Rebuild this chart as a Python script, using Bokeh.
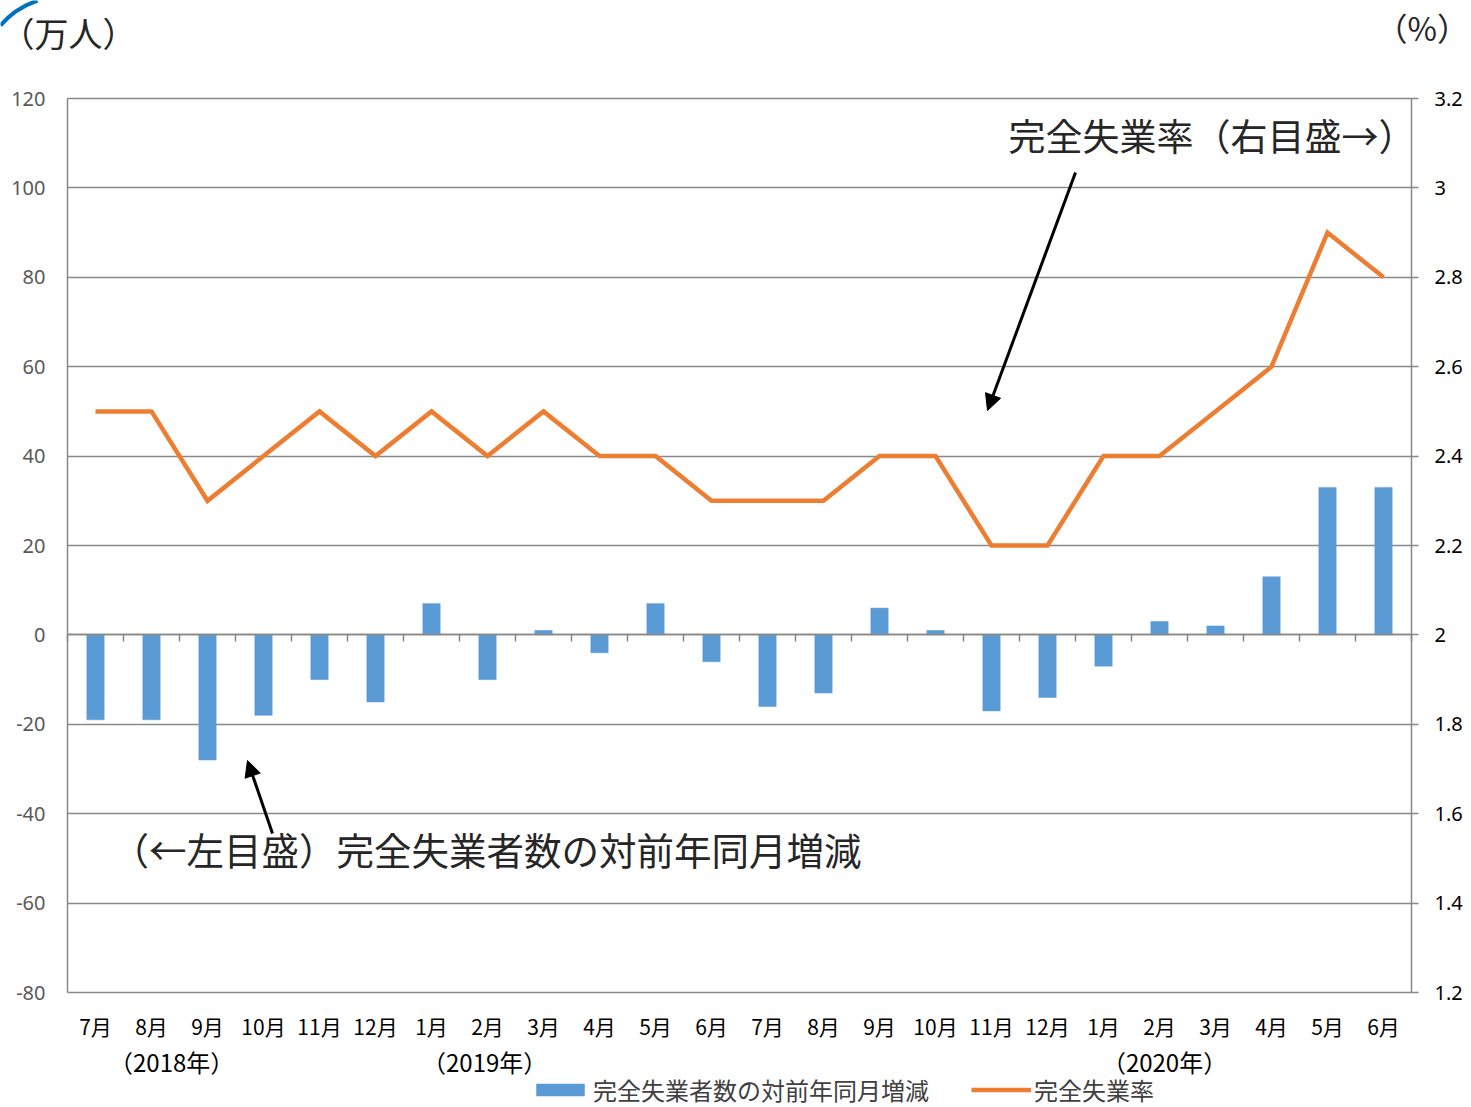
from bokeh.plotting import figure
from bokeh.models import (Range1d, LinearAxis, FixedTicker, NumeralTickFormatter,
                          CustomJSTickFormatter, Label, Arrow, NormalHead,
                          Legend, LegendItem, ColumnDataSource)
from bokeh.embed import file_html
from bokeh.resources import INLINE

# ---------------- data ----------------
months = ["7月", "8月", "9月", "10月", "11月", "12月",
          "1月", "2月", "3月", "4月", "5月", "6月",
          "7月", "8月", "9月", "10月", "11月", "12月",
          "1月", "2月", "3月", "4月", "5月", "6月"]
change = [-19, -19, -28, -18, -10, -15,
          7, -10, 1, -4, 7, -6,
          -16, -13, 6, 1, -17, -14,
          -7, 3, 2, 13, 33, 33]
rate = [2.5, 2.5, 2.3, 2.4, 2.5, 2.4,
        2.5, 2.4, 2.5, 2.4, 2.4, 2.3,
        2.3, 2.3, 2.4, 2.4, 2.2, 2.2,
        2.4, 2.4, 2.5, 2.6, 2.9, 2.8]
left_ticks = [-80, -60, -40, -20, 0, 20, 40, 60, 80, 100, 120]
right_ticks = [1.2, 1.4, 1.6, 1.8, 2.0, 2.2, 2.4, 2.6, 2.8, 3.0, 3.2]
year_labels = ["（2018年）", "（2019年）", "（2020年）"]
year_pos = [1.86, 7.45, 19.59]
series_names = ["完全失業者数の対前年同月増減", "完全失業率"]
left_unit = "（万人）"
right_unit = "（%）"

BLUE = "#5B9BD5"
ORANGE = "#ED7D31"
GRID = "#898989"
JP = "Noto Sans CJK JP"
NUM = "Noto Sans"

# ---------------- layout geometry (pixels) ----------------
W, H = 1471, 1107
FL, FR, FT, FB = 67, 1411, 98, 992          # plot box edges
n = len(months)
ux = (FR - FL) / n                               # px per category
uy = (FB - FT) / (left_ticks[-1] - left_ticks[0])  # px per left unit

def X(px):
    return (px - FL) / ux

def Y(py):
    return left_ticks[-1] - (py - FT) / uy

xs = [i + 0.5 for i in range(n)]
src = ColumnDataSource(dict(x=xs, change=change, rate=rate, month=months))

y0, y1 = Y(H), Y(0)
# right scale: 1.2..3.2 aligned with -80..120
k = (right_ticks[-1] - right_ticks[0]) / (left_ticks[-1] - left_ticks[0])
r0 = right_ticks[0] + (y0 - left_ticks[0]) * k
r1 = right_ticks[0] + (y1 - left_ticks[0]) * k

p = figure(width=W, height=H, output_backend="svg", toolbar_location=None, tools="",
           x_range=Range1d(X(0), X(W)), y_range=Range1d(y0, y1),
           min_border=0)
p.extra_y_ranges = {"pct": Range1d(r0, r1)}
p.outline_line_color = None

# grid
p.xgrid.visible = False
p.ygrid.ticker = FixedTicker(ticks=left_ticks)
p.ygrid.grid_line_color = GRID
p.ygrid.grid_line_width = 1.5
try:
    p.ygrid.cross_bounds = (0, n)
    custom_grid = False
except AttributeError:
    custom_grid = True
if custom_grid:
    p.ygrid.visible = False
    p.segment(x0=[0] * len(left_ticks), x1=[n] * len(left_ticks),
              y0=left_ticks, y1=left_ticks, line_color=GRID, line_width=1.5)

# left axis
ya = p.yaxis[0]
ya.fixed_location = 0
ya.bounds = (left_ticks[0], left_ticks[-1])
ya.ticker = FixedTicker(ticks=left_ticks)
ya.formatter = NumeralTickFormatter(format="0")
ya.axis_line_color = GRID
ya.axis_line_width = 1.5
ya.major_tick_out = 0
ya.major_tick_in = 0
ya.minor_tick_out = 0
ya.minor_tick_in = 0
ya.major_label_standoff = 22
ya.major_label_text_color = "#595959"
ya.major_label_text_font = NUM
ya.major_label_text_font_size = "20px"

# right axis
ra = LinearAxis(y_range_name="pct", ticker=FixedTicker(ticks=right_ticks),
                formatter=NumeralTickFormatter(format="0.[0]"),
                fixed_location=n, bounds=(right_ticks[0], right_ticks[-1]))
ra.axis_line_color = GRID
ra.axis_line_width = 1.5
ra.major_tick_line_color = GRID
ra.major_tick_line_width = 1.5
ra.major_tick_out = 7
ra.major_tick_in = 0
ra.minor_tick_out = 0
ra.minor_tick_in = 0
ra.major_label_standoff = 16
ra.major_label_text_color = "#000000"
ra.major_label_text_font = NUM
ra.major_label_text_font_size = "20px"
p.add_layout(ra, "right")

# month labels (bottom axis at the lower edge of the plot box)
xa = p.xaxis[0]
xa.fixed_location = left_ticks[0]
xa.bounds = (0, n)
xa.ticker = FixedTicker(ticks=xs)
xa.formatter = CustomJSTickFormatter(args=dict(labels=months),
                                     code="return labels[Math.floor(tick)];")
xa.axis_line_color = None
xa.major_tick_out = 0
xa.major_tick_in = 0
xa.minor_tick_out = 0
xa.minor_tick_in = 0
xa.major_label_standoff = 18
xa.major_label_text_color = "#000000"
xa.major_label_text_font = JP
xa.major_label_text_font_size = "21px"

# year labels
yax = LinearAxis(ticker=FixedTicker(ticks=year_pos), fixed_location=left_ticks[0],
                 formatter=CustomJSTickFormatter(args=dict(labels=year_labels, pos=year_pos),
                                                 code="return labels[pos.indexOf(tick)];"))
yax.axis_line_color = None
yax.major_tick_out = 0
yax.major_tick_in = 0
yax.minor_tick_out = 0
yax.minor_tick_in = 0
yax.major_label_standoff = 51
yax.major_label_text_color = "#000000"
yax.major_label_text_font = JP
yax.major_label_text_font_size = "24px"
p.add_layout(yax, "below")

# zero axis with ticks between the months
zax = LinearAxis(ticker=FixedTicker(ticks=list(range(n + 1))), fixed_location=0,
                 bounds=(0, n))
zax.axis_line_color = GRID
zax.axis_line_width = 1.5
zax.major_tick_line_color = GRID
zax.major_tick_line_width = 1.5
zax.major_tick_out = 7
zax.major_tick_in = 0
zax.minor_tick_out = 0
zax.minor_tick_in = 0
zax.major_label_text_font_size = "0px"
zax.major_label_text_alpha = 0
p.add_layout(zax, "below")

# series
bars = p.vbar(x="x", top="change", width=0.31, source=src,
              fill_color=BLUE, line_color=BLUE, line_width=0.5)
line = p.line(x="x", y="rate", source=src, y_range_name="pct",
              line_color=ORANGE, line_width=4.5, line_join="miter")

# texts
def lab(px, py, text, size, color="#262626"):
    p.add_layout(Label(x=X(px), y=Y(py), text=text, text_font=JP, text_font_size=size,
                       text_align="left", text_baseline="middle", text_color=color))

lab(0, 32, left_unit, "34px")
lab(1375, 26, right_unit, "32px")
lab(1008, 134, "完全失業率（右目盛→）", "37px")
lab(111, 848, "（←左目盛）完全失業者数の対前年同月増減", "37.5px")

# decorative corner arc
p.quadratic(x0=X(0), y0=Y(25), x1=X(37), y1=Y(0), cx=X(14), cy=Y(8),
            line_color="#0070C0", line_width=4)

# arrows
head = dict(size=16, fill_color="black", line_color="black")
p.add_layout(Arrow(end=NormalHead(**head), x_start=X(1075), y_start=Y(172),
                   x_end=X(987), y_end=Y(410), line_color="black", line_width=3))
p.add_layout(Arrow(end=NormalHead(**head), x_start=X(272), y_start=Y(833),
                   x_end=X(247), y_end=Y(760), line_color="black", line_width=3))

# legend
legend = Legend(items=[LegendItem(label=series_names[0], renderers=[bars]),
                       LegendItem(label=series_names[1], renderers=[line])],
                orientation="horizontal", location=(530, 0),
                padding=0, margin=0, spacing=42, label_standoff=3,
                glyph_width=60, glyph_height=15,
                label_text_font=JP, label_text_font_size="24px",
                label_text_color="#404040",
                border_line_color=None, background_fill_alpha=0)
p.add_layout(legend, "center")

open("out.html", "w").write(file_html(p, INLINE))
